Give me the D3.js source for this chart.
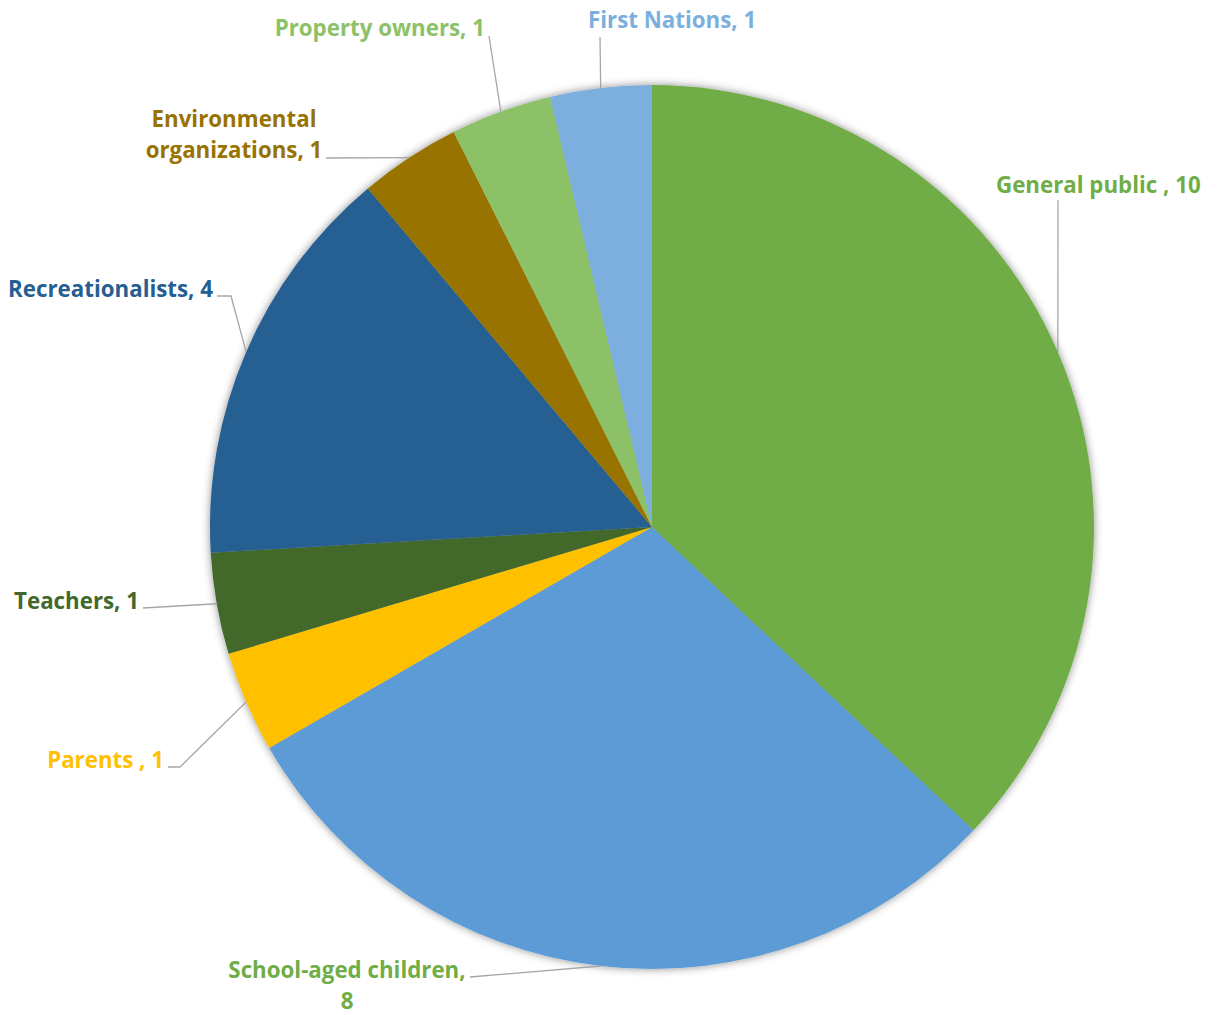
<!DOCTYPE html>
<html>
<head>
<meta charset="utf-8">
<script src="https://cdn.jsdelivr.net/npm/d3@7"></script>
<style>
  html, body { margin: 0; padding: 0; background: #ffffff; }
  svg { display: block; }
  .lbl { font-family: "Open Sans", Lato, sans-serif; font-weight: 700; font-size: 22.3px; }
</style>
</head>
<body>
<svg id="chart" width="1217" height="1015"></svg>
<script>
// Audience groups and counts, clockwise from 12 o'clock
const categories = ["General public ", "School-aged children", "Parents ", "Teachers", "Recreationalists",
                    "Environmental organizations", "Property owners", "First Nations"];
const values = [10, 8, 1, 1, 4, 1, 1, 1];
const sliceColors = ["#70AD47", "#5B9BD5", "#FFC000", "#43682B", "#255E91", "#997300", "#8CC168", "#7CAFDD"];
const labelColors = ["#70AD47", "#70AD47", "#FFC000", "#43682B", "#255E91", "#997300", "#8CC168", "#7CAFDD"];

// Label text lines (multi-line where the label wraps)
const labelLines = [
  ["General public , 10"],
  ["School-aged children,", "8"],
  ["Parents , 1"],
  ["Teachers, 1"],
  ["Recreationalists, 4"],
  ["Environmental", "organizations, 1"],
  ["Property owners, 1"],
  ["First Nations, 1"]
];

// Label placement: anchor point, text anchor, and leader-line start/elbow
const labelLayout = [
  { x: 996, y: 185, anchor: "start", lead: [[1058, 200]] },
  { x: 347, y: 970, anchor: "middle", lead: [[470, 977]] },
  { x: 164, y: 760, anchor: "end", lead: [[168, 767], [180, 767]] },
  { x: 139, y: 601, anchor: "end", lead: [[143, 608]] },
  { x: 213, y: 289, anchor: "end", lead: [[217, 296], [231, 296]] },
  { x: 234, y: 119, anchor: "middle", lead: [[326, 158]] },
  { x: 485, y: 28, anchor: "end", lead: [[489, 36]] },
  { x: 588, y: 20, anchor: "start", lead: [[600, 37]] }
];

const svg = d3.select("#chart");
const cx = 652, cy = 527, R = 442;

// Soft outer shadow around the pie
const defs = svg.append("defs");
const f = defs.append("filter").attr("id", "pieShadow")
  .attr("x", "-10%").attr("y", "-10%").attr("width", "120%").attr("height", "120%");
f.append("feDropShadow").attr("dx", 0).attr("dy", 0).attr("stdDeviation", 4)
  .attr("flood-color", "#000").attr("flood-opacity", 0.45);

const pie = d3.pie().sort(null).value(d => d)(values);
const arc = d3.arc().innerRadius(0).outerRadius(R);

const g = svg.append("g").attr("transform", `translate(${cx},${cy})`);
g.append("g").attr("filter", "url(#pieShadow)")
  .selectAll("path").data(pie).join("path")
  .attr("d", arc)
  .attr("fill", (d, i) => sliceColors[i]);

// Leader lines from each label to the midpoint of its slice's rim
const line = d3.line();
pie.forEach((d, i) => {
  const mid = (d.startAngle + d.endAngle) / 2;
  const end = [cx + R * Math.sin(mid), cy - R * Math.cos(mid)];
  const pts = labelLayout[i].lead.concat([end]);
  svg.append("path")
    .attr("d", line(pts))
    .attr("fill", "none")
    .attr("stroke", "#a6a6a6")
    .attr("stroke-width", 1.3);
});

// Labels
labelLines.forEach((lines, i) => {
  const L = labelLayout[i];
  const t = svg.append("text")
    .attr("class", "lbl")
    .attr("fill", labelColors[i])
    .attr("text-anchor", L.anchor);
  lines.forEach((s, k) => {
    t.append("tspan")
      .attr("x", L.x)
      .attr("y", L.y + k * 31)
      .attr("dy", "0.35em")
      .text(s);
  });
});
</script>
</body>
</html>
